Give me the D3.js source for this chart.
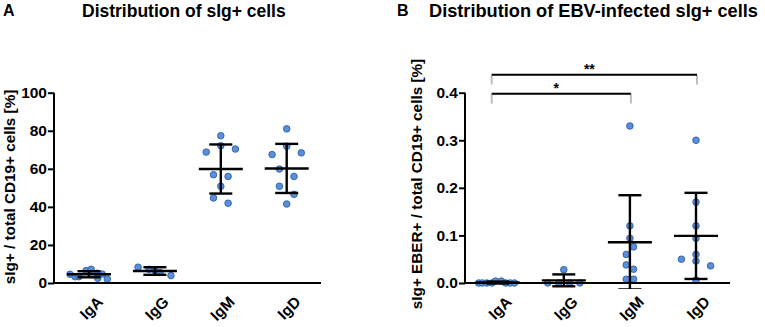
<!DOCTYPE html>
<html><head><meta charset="utf-8">
<script src="https://cdn.jsdelivr.net/npm/d3@7/dist/d3.min.js"></script>
<style>
body{margin:0;background:#fff;}
svg{display:block;font-family:"Liberation Sans",Arial,sans-serif;}
</style></head>
<body><svg id="chart" width="765" height="327"></svg>
<script>
// ---------- data ----------
const categories = ["IgA", "IgG", "IgM", "IgD"];

// Panel A: sIg+ / total CD19+ cells [%]
const aIgA = [4.6, 3.3, 3.3, 6.5, 7.2, 5.1, 2.5, 4.7, 2.1];
const aIgG = [8.3, 7.2, 6.6, 5.5, 3.9];
const aIgM = [77.4, 72.1, 68.8, 70.4, 56.9, 56.0, 50.8, 44.7, 41.9];
const aIgD = [81.0, 71.9, 67.5, 68.4, 59.9, 56.0, 50.8, 46.6, 41.5];
const aMeans = [4.6, 6.3, 59.9, 60.2];
const aSD = [1.6, 2.0, 12.9, 12.9];
const aTicks = [0, 20, 40, 60, 80, 100];

// Panel B: sIg+ EBER+ / total CD19+ cells [%]
const bIgA = [0, 0, 0, 0, 0.004, 0.004, 0, 0, 0];
const bIgG = [0, 0, 0.028, 0, 0];
const bIgM = [0.33, 0.12, 0.094, 0.076, 0.060, 0.038, 0.029, 0.008, 0.008];
const bIgD = [0.30, 0.17, 0.12, 0.094, 0.060, 0.046, 0.050, 0.036, 0.006];
const bMeans = [0.001, 0.0056, 0.0855, 0.099];
const bSD = [0.002, 0.0125, 0.099, 0.0905];
const bTicks = [0, 0.1, 0.2, 0.3, 0.4];

// scatter lanes (in dot widths)
const aLanes = [
  [-2.6, -1.9, -1.4, -0.4, 0.3, 1.1, 1.2, 1.8, 2.5],
  [-2.3, -0.8, 0, 0.7, 2.2],
  [0, 0, -2, 2, -1, 1, 0, -1, 1],
  [0, 0, -2, 2, -1, 1, -1, 1, 0]
];
const bLanes = [
  [-2.6, -2.1, -1.5, -0.8, -0.3, 0.5, 1.1, 1.7, 2.3],
  [-2.2, -0.7, 0, 0.8, 2.2],
  [0, 0, 0, 0.5, -0.5, -0.5, 0.5, -0.5, 0.5],
  [0, 0, 0, 0, 0, 0, -2, 2, 0]
];

// significance comparisons in panel B
const sigPairs = [["IgA", "IgD", "**"], ["IgA", "IgM", "*"]];

// ---------- drawing ----------
const svg = d3.select("#chart");
const FONT = '"Liberation Sans",Arial,sans-serif';
const dotFill = "#5b8fd9", dotStroke = "#2d5ea8";
const laneW = 7.3;

function panel(opt) {
  const g = svg.append("g");
  const y = d3.scaleLinear().domain(opt.yDomain).range([283, 92.7]);
  const x = d3.scalePoint().domain(categories).range(opt.xRange);
  const lane = d3.scaleLinear().domain([0, 1]).range([0, laneW]);

  const clipId = "clip" + opt.id;
  svg.append("defs").append("clipPath").attr("id", clipId)
    .append("rect").attr("x", opt.axisX).attr("y", 60)
    .attr("width", opt.axisEnd - opt.axisX).attr("height", 289 - 60);

  // dots
  opt.series.forEach((vals, i) => {
    g.selectAll(null).data(vals).enter().append("circle")
      .attr("cx", (d, j) => x(categories[i]) + lane(opt.lanes[i][j]))
      .attr("cy", d => y(d))
      .attr("r", 3.3)
      .attr("fill", dotFill).attr("stroke", dotStroke).attr("stroke-width", 0.9);
  });

  // mean and SD
  const eb = g.append("g").attr("clip-path", `url(#${clipId})`)
    .attr("stroke", "#000").attr("stroke-width", 2.4).attr("fill", "none");
  categories.forEach((c, i) => {
    const cx = x(c), m = opt.means[i], s = opt.sd[i];
    const hi = m + s, lo = m - s;
    eb.append("line").attr("x1", cx).attr("x2", cx).attr("y1", y(hi)).attr("y2", y(lo));
    eb.append("line").attr("x1", cx - 22).attr("x2", cx + 22).attr("y1", y(m)).attr("y2", y(m));
    eb.append("line").attr("x1", cx - 11.5).attr("x2", cx + 11.5).attr("y1", y(hi)).attr("y2", y(hi));
    eb.append("line").attr("x1", cx - 11.5).attr("x2", cx + 11.5).attr("y1", y(lo)).attr("y2", y(lo));
  });

  // y axis
  const ya = g.append("g").attr("transform", `translate(${opt.axisX},0)`)
    .call(d3.axisLeft(y).tickValues(opt.ticks).tickFormat(opt.fmt).tickSize(6).tickPadding(1));
  ya.select(".domain").attr("stroke", "#000").attr("stroke-width", 2)
    .attr("d", `M0,${y(opt.yDomain[1])}V${y(0)}`);
  ya.selectAll(".tick line").attr("stroke", "#000").attr("stroke-width", 2);
  ya.selectAll(".tick text").attr("fill", "#000")
    .style("font-family", FONT).style("font-size", "15.5px").style("font-weight", "bold");

  // x axis line
  g.append("line").attr("x1", opt.axisX - 1).attr("x2", opt.axisEnd)
    .attr("y1", y(0)).attr("y2", y(0)).attr("stroke", "#000").attr("stroke-width", 2);

  // x labels
  categories.forEach(c => {
    g.append("text").attr("transform", `translate(${x(c) + 7},${295}) rotate(-45)`)
      .attr("text-anchor", "end").attr("dy", "0.72em")
      .style("font-family", FONT).style("font-size", "15.5px").style("font-weight", "bold")
      .text(c);
  });

  // y label
  g.append("text").attr("transform", `translate(${opt.yLabelX},${opt.yLabelY}) rotate(-90)`)
    .attr("text-anchor", "middle")
    .style("font-family", FONT).style("font-size", "15.3px").style("font-weight", "bold")
    .text(opt.yLabel);

  // panel letter + title
  g.append("text").attr("x", opt.letterX).attr("y", 16)
    .style("font-family", FONT).style("font-size", "16px").style("font-weight", "bold")
    .text(opt.letter);
  g.append("text").attr("x", opt.titleX).attr("y", 17)
    .style("font-family", FONT).style("font-size", opt.titleSize).style("font-weight", "bold")
    .text(opt.title);

  return { g, x, y };
}

panel({
  id: "A", yDomain: [0, 100], xRange: [89, 286.7], axisX: 54, axisEnd: 321,
  series: [aIgA, aIgG, aIgM, aIgD], lanes: aLanes, means: aMeans, sd: aSD,
  ticks: aTicks, fmt: d3.format("d"),
  yLabel: "sIg+ / total CD19+ cells [%]", yLabelX: 15, yLabelY: 187,
  letter: "A", letterX: 3, title: "Distribution of sIg+ cells", titleX: 82, titleSize: "17.5px"
});

const pB = panel({
  id: "B", yDomain: [0, 0.4], xRange: [497.7, 696], axisX: 465, axisEnd: 730,
  series: [bIgA, bIgG, bIgM, bIgD], lanes: bLanes, means: bMeans, sd: bSD,
  ticks: bTicks, fmt: d3.format(".1f"),
  yLabel: "sIg+ EBER+ / total CD19+ cells [%]", yLabelX: 422, yLabelY: 184,
  letter: "B", letterX: 397, title: "Distribution of EBV-infected sIg+ cells", titleX: 429, titleSize: "18.2px"
});

// significance brackets
const sigY = [74.7, 93.7];
sigPairs.forEach((p, i) => {
  const x1 = pB.x(p[0]) - 6, x2 = pB.x(p[1]) + 1, yy = sigY[i];
  [x1, x2].forEach(xx => {
    pB.g.append("line").attr("x1", xx).attr("x2", xx).attr("y1", yy + 1).attr("y2", yy + 9)
      .attr("stroke", "#bdbdbd").attr("stroke-width", 2).attr("stroke-linecap", "round");
  });
  pB.g.append("line").attr("x1", x1).attr("x2", x2).attr("y1", yy).attr("y2", yy)
    .attr("stroke", "#000").attr("stroke-width", 2);
  pB.g.append("text").attr("x", (x1 + x2) / 2 - 5).attr("y", yy - 1)
    .attr("text-anchor", "middle")
    .style("font-family", FONT).style("font-size", "14px").style("font-weight", "bold")
    .text(p[2]);
});
</script></body></html>
